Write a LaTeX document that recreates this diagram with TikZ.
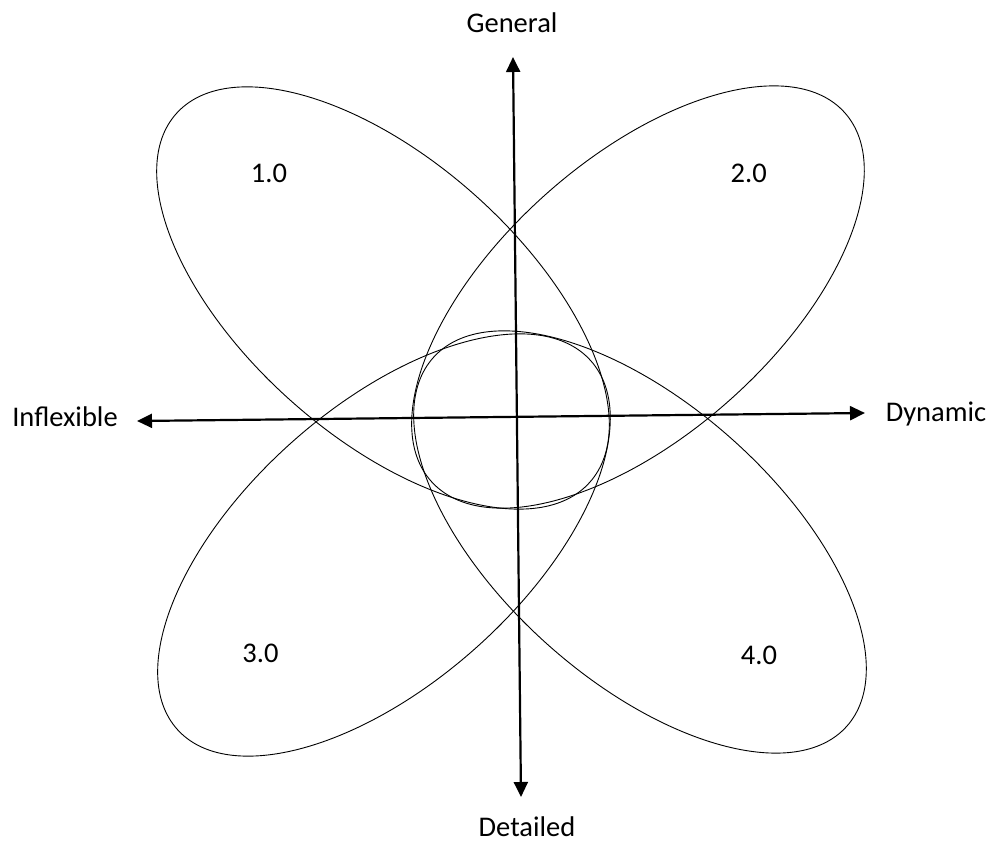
\documentclass[tikz,border=0pt]{standalone}
\usepackage{fontspec}
\setmainfont{Carlito}
\usetikzlibrary{arrows.meta}
\tikzset{
  lbl/.style={anchor=base, inner sep=0pt, font=\fontsize{28.5}{34}\selectfont},
  axisline/.style={line width=2.2pt, {Triangle[length=15pt,width=14pt]}-{Triangle[length=15pt,width=14pt]}},
  petal/.style={line width=0.9pt},
}
\begin{document}
\begin{tikzpicture}[x=1pt,y=1pt]
\useasboundingbox (0,0) rectangle (995,-844);
% ellipse centres
\coordinate (c1) at (383,-298);
\coordinate (c2) at (638,-297);
\coordinate (c3) at (384,-545);
\coordinate (c4) at (640,-542);
\draw[petal, rotate around={-41.7:(c1)}] (c1) ellipse [x radius=277, y radius=138];
\draw[petal, rotate around={41.7:(c2)}] (c2) ellipse [x radius=277, y radius=138];
\draw[petal, rotate around={41.7:(c3)}] (c3) ellipse [x radius=277, y radius=138];
\draw[petal, rotate around={-41.7:(c4)}] (c4) ellipse [x radius=277, y radius=138];
% axes
\coordinate (top) at (513,-57);
\coordinate (bot) at (521,-797);
\coordinate (lft) at (137,-421);
\coordinate (rgt) at (865,-413);
\draw[axisline] (top) -- (bot);
\draw[axisline] (lft) -- (rgt);
% labels
\node[lbl] (general) at (512,-32.7) {General};
\node[lbl] (detailed) at (527,-836) {Detailed};
\node[lbl] (inflexible) at (65,-426) {Inflexible};
\node[lbl] (dynamic) at (936,-421.7) {Dynamic};
\node[lbl] (l1) at (269,-182.3) {1.0};
\node[lbl] (l2) at (748.7,-182.3) {2.0};
\node[lbl] (l3) at (260.5,-662.3) {3.0};
\node[lbl] (l4) at (759,-664.3) {4.0};
\end{tikzpicture}
\end{document}
